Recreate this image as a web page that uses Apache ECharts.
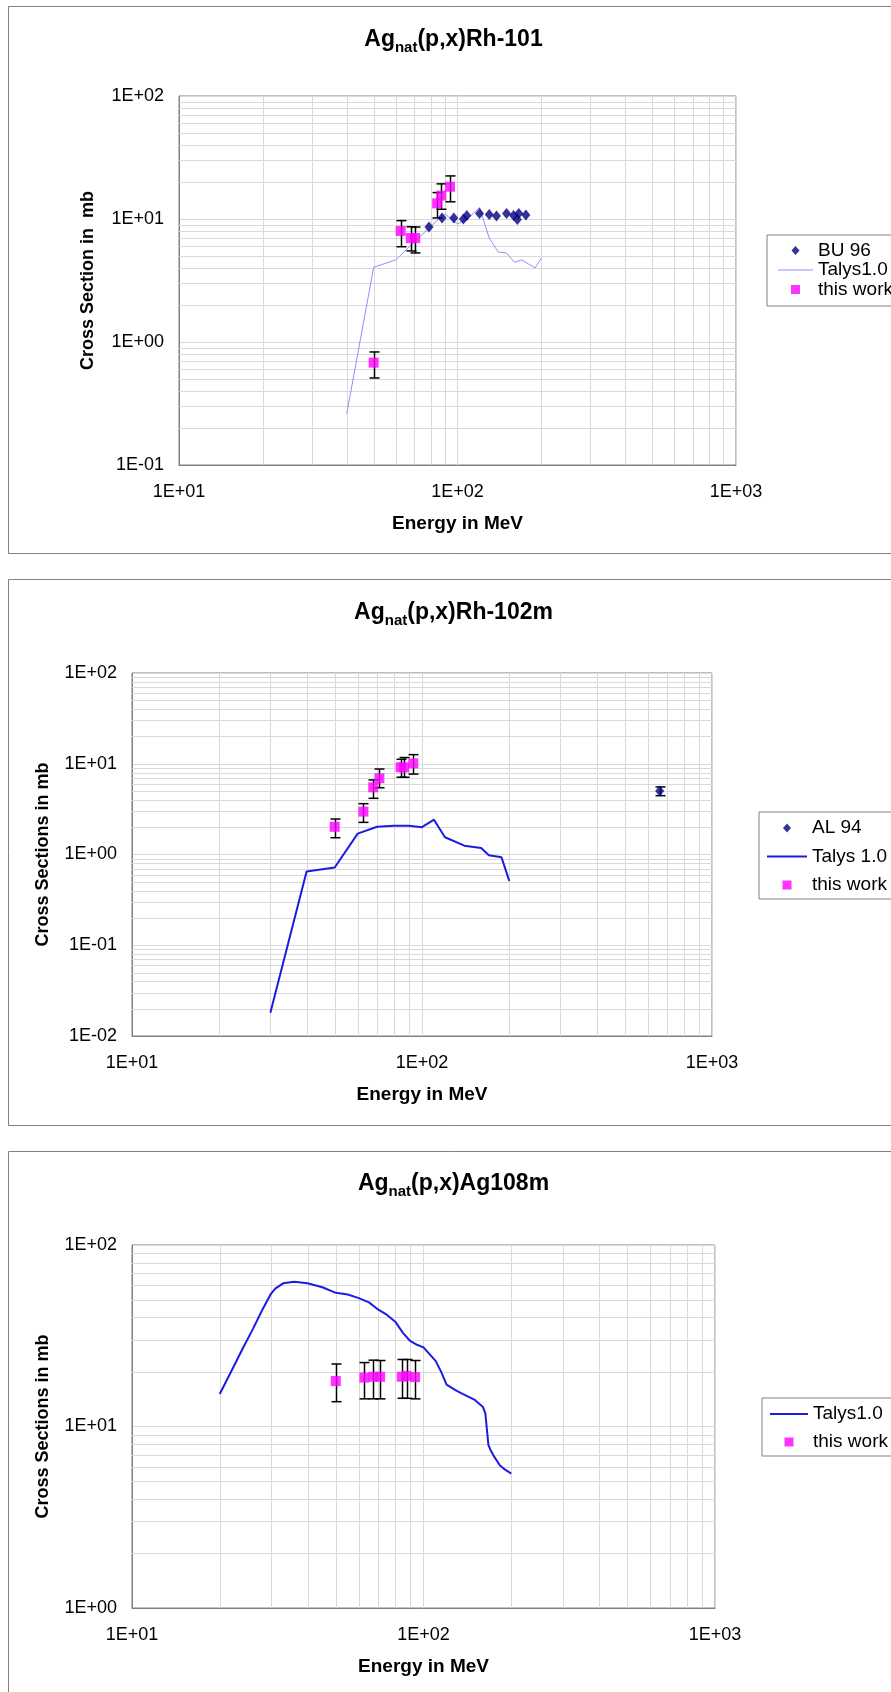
<!DOCTYPE html>
<html><head><meta charset="utf-8">
<script src="https://cdn.jsdelivr.net/npm/echarts@6/dist/echarts.min.js"></script>
<style>html,body{margin:0;padding:0;background:#fff}#c{width:891px;height:1692px}</style>
</head><body><div id="c"></div>
<script>
// ---------- Panel 1: Ag_nat(p,x)Rh-101 ----------
const p1TalysE  = [40, 50, 60, 70, 80, 90, 100, 110, 120, 130, 140, 150, 160, 170, 180, 190, 200];
const p1TalysXS = [0.26, 4.05, 4.65, 6.5, 8.7, 11.0, 9.1, 10.3, 12.4, 7.0, 5.4, 5.3, 4.45, 4.65, 4.3, 4.0, 4.8];
const p1BuE  = [79, 88, 97, 105, 108, 120, 130, 138, 150, 159, 164, 166, 176];
const p1BuXS = [8.6, 10.2, 10.2, 10.0, 10.7, 11.1, 10.9, 10.6, 11.1, 10.7, 9.9, 11.1, 10.8];
const p1WorkE  = [50, 62.5, 68, 70.5, 84.5, 87.5, 94];
const p1WorkXS = [0.68, 8.0, 7.0, 7.0, 13.4, 15.5, 18.3];
const p1WorkLo = [0.51, 5.95, 5.5, 5.3, 10.2, 12.0, 13.8];
const p1WorkHi = [0.83, 9.7, 8.65, 8.6, 16.4, 19.3, 22.4];

// ---------- Panel 2: Ag_nat(p,x)Rh-102m ----------
const p2TalysE  = [30, 40, 50, 60, 70, 80, 90, 100, 110, 120, 140, 160, 170, 188, 200];
const p2TalysXS = [0.018, 0.65, 0.72, 1.7, 2.02, 2.07, 2.07, 2.0, 2.42, 1.55, 1.25, 1.18, 0.98, 0.93, 0.51];
const p2AlE  = [660];
const p2AlXS = [5.0];
const p2AlLo = [4.45];
const p2AlHi = [5.55];
const p2WorkE  = [50, 62.8, 67.9, 71.3, 84.4, 86.7, 93.3];
const p2WorkXS = [2.02, 2.97, 5.5, 6.92, 9.14, 9.14, 10.1];
const p2WorkLo = [1.53, 2.26, 4.16, 5.44, 7.1, 7.1, 7.7];
const p2WorkHi = [2.46, 3.63, 6.63, 8.75, 11.2, 11.7, 12.6];

// ---------- Panel 3: Ag_nat(p,x)Ag108m ----------
const p3TalysE  = [20, 22, 24, 26, 28, 30, 31, 33, 36, 40, 45, 50, 55, 60, 65, 70, 75, 80, 85, 90, 95, 100, 110, 115, 120, 130, 140, 150, 160, 163, 167, 170, 175, 183, 190, 200];
const p3TalysXS = [15.1, 20.4, 27, 34.5, 44, 54, 57.5, 61.5, 62.7, 61.5, 58.5, 54.5, 53.4, 51, 48.3, 44, 41.2, 37.8, 32.8, 29.6, 28.2, 27.3, 23.0, 20.0, 17.0, 15.7, 14.8, 14.0, 12.8, 11.8, 7.9, 7.4, 6.8, 6.1, 5.8, 5.5];
const p3WorkE  = [50, 62.7, 67.3, 71, 84.2, 87.5, 93.6];
const p3WorkXS = [17.8, 18.6, 18.8, 18.8, 18.8, 19.0, 18.7];
const p3WorkLo = [13.7, 14.2, 14.2, 14.2, 14.3, 14.3, 14.2];
const p3WorkHi = [22.1, 22.5, 23.2, 23.1, 23.4, 23.4, 23.1];

// ---------- Tick values and labels ----------
const xTicks = [10, 100, 1000];
const xTickLabels = ['1E+01', '1E+02', '1E+03'];
const y1Ticks = [0.1, 1, 10, 100];
const y1TickLabels = ['1E-01', '1E+00', '1E+01', '1E+02'];
const y2Ticks = [0.01, 0.1, 1, 10, 100];
const y2TickLabels = ['1E-02', '1E-01', '1E+00', '1E+01', '1E+02'];
const y3Ticks = [1, 10, 100];
const y3TickLabels = ['1E+00', '1E+01', '1E+02'];

const FONT = "'Liberation Sans', Arial, sans-serif";
const GRID_C = '#d9d9d9';
const AXIS_C = '#808080';

function labelFmt(ticks, labels) {
  return function (v) {
    const i = ticks.findIndex(t => Math.abs(Math.log10(t) - Math.log10(v)) < 1e-6);
    return i >= 0 ? labels[i] : '';
  };
}
function minors(ticks) {
  const out = [];
  for (let i = 0; i < ticks.length - 1; i++) for (let m = 2; m <= 9; m++) out.push(+(m * ticks[i]).toPrecision(6));
  return out;
}
const strip = n => n.split('#')[0];

function xAxisCfg(idx) {
  return {
    gridIndex: idx, type: 'log', logBase: 10, min: xTicks[0], max: xTicks[xTicks.length - 1],
    axisLine: { show: true, onZero: false, lineStyle: { color: AXIS_C, width: 1 } },
    axisTick: { show: false },
    splitLine: { show: true, lineStyle: { color: GRID_C, width: 1 } },
    axisLabel: { formatter: labelFmt(xTicks, xTickLabels), color: '#000', fontSize: 18, fontFamily: FONT, margin: 18 },
    name: 'Energy in MeV', nameLocation: 'middle', nameGap: 49,
    nameTextStyle: { fontWeight: 'bold', fontSize: 19, color: '#000', fontFamily: FONT }
  };
}
function yAxisCfg(idx, ticks, labels, name, gap) {
  return {
    gridIndex: idx, type: 'log', logBase: 10, min: ticks[0], max: ticks[ticks.length - 1],
    axisLine: { show: true, onZero: false, lineStyle: { color: AXIS_C, width: 1 } },
    axisTick: { show: false },
    splitLine: { show: true, lineStyle: { color: GRID_C, width: 1 } },
    axisLabel: { formatter: labelFmt(ticks, labels), color: '#000', fontSize: 18, fontFamily: FONT, margin: 15 },
    name: name, nameLocation: 'middle', nameGap: gap,
    nameTextStyle: { fontWeight: 'bold', fontSize: 18, color: '#000', fontFamily: FONT }
  };
}
function gridLines(idx, yTicks) {
  const data = [];
  minors(xTicks).forEach(v => data.push([v, yTicks[0], 0]));
  minors(yTicks).forEach(v => data.push([xTicks[0], v, 1]));
  return {
    type: 'custom', xAxisIndex: idx, yAxisIndex: idx, silent: true, z: 1, data: data,
    encode: { x: 0, y: 1 },
    renderItem: function (params, api) {
      const cs = params.coordSys;
      const p = api.coord([api.value(0), api.value(1)]);
      const shape = api.value(2) === 1
        ? { x1: cs.x, y1: Math.round(p[1]) + 0.5, x2: cs.x + cs.width, y2: Math.round(p[1]) + 0.5 }
        : { x1: Math.round(p[0]) + 0.5, y1: cs.y, x2: Math.round(p[0]) + 0.5, y2: cs.y + cs.height };
      return { type: 'line', shape: shape, style: { stroke: GRID_C, lineWidth: 1 } };
    }
  };
}
function errBars(idx, E, lo, hi) {
  return {
    type: 'custom', xAxisIndex: idx, yAxisIndex: idx, silent: true, z: 3,
    data: E.map((e, i) => [e, lo[i], hi[i]]), encode: { x: 0, y: [1, 2] },
    renderItem: function (params, api) {
      const t = api.coord([api.value(0), api.value(2)]);
      const b = api.coord([api.value(0), api.value(1)]);
      const x = Math.round(t[0]) + 0.5, h = 5;
      const st = { stroke: '#000', lineWidth: 1.5 };
      return { type: 'group', children: [
        { type: 'line', shape: { x1: x, y1: t[1], x2: x, y2: b[1] }, style: st },
        { type: 'line', shape: { x1: x - h, y1: t[1], x2: x + h, y2: t[1] }, style: st },
        { type: 'line', shape: { x1: x - h, y1: b[1], x2: x + h, y2: b[1] }, style: st }
      ] };
    }
  };
}
const pts = (E, V) => E.map((e, i) => [e, V[i]]);
function workSeries(idx, name, E, V) {
  return { type: 'scatter', name: name, xAxisIndex: idx, yAxisIndex: idx, z: 4,
    symbol: 'rect', symbolSize: 10, itemStyle: { color: '#ff00ff' }, data: pts(E, V) };
}
function diaSeries(idx, name, E, V) {
  return { type: 'scatter', name: name, xAxisIndex: idx, yAxisIndex: idx, z: 4,
    symbol: 'diamond', symbolSize: [9, 11], itemStyle: { color: '#000080' }, data: pts(E, V) };
}
function talys(idx, name, E, V, color, width) {
  return { type: 'line', name: name, xAxisIndex: idx, yAxisIndex: idx, z: 2,
    symbol: 'none', showSymbol: false, lineStyle: { color: color, width: width },
    itemStyle: { color: color }, data: pts(E, V) };
}
function titleCfg(main, tail, y) {
  return {
    text: '{a|' + main + '}{s|nat}{a|' + tail + '}', left: 453.5, top: y, textAlign: 'center',
    textVerticalAlign: 'middle', padding: 0,
    textStyle: { fontFamily: FONT, fontWeight: 'bold', color: '#000',
      rich: {
        a: { fontSize: 23, fontWeight: 'bold', fontFamily: FONT, color: '#000', lineHeight: 30, verticalAlign: 'middle' },
        s: { fontSize: 15, fontWeight: 'bold', fontFamily: FONT, color: '#000', lineHeight: 15, verticalAlign: 'bottom' }
      } }
  };
}
// legend icons: bounding corners (tiny specks) keep the icon box fixed at W x 10
function boxed(W, body) {
  return 'path://M0,0L0.01,0L0,0.01Z M' + W + ',10L' + (W - 0.01) + ',10L' + W + ',9.99Z ' + body;
}
function iconDiamond(W) { const c = W / 2; return boxed(W, 'M' + c + ',0.5L' + (c + 4) + ',5L' + c + ',9.5L' + (c - 4) + ',5Z'); }
function iconSquare(W) { const c = W / 2; return boxed(W, 'M' + (c - 4.5) + ',0.5L' + (c + 4.5) + ',0.5L' + (c + 4.5) + ',9.5L' + (c - 4.5) + ',9.5Z'); }
function iconLine(W, lw) { const a = 5 - lw / 2, b = 5 + lw / 2; return boxed(W, 'M0,' + a + 'L' + W + ',' + a + 'L' + W + ',' + b + 'L0,' + b + 'Z'); }

function legendCfg(items, left, top, itemW, lineH, gap, pad) {
  return {
    data: items.map(it => ({ name: it[0], icon: it[1] })),
    orient: 'vertical', left: left, top: top, itemWidth: itemW, itemHeight: 10, itemGap: gap,
    padding: pad, borderColor: AXIS_C, borderWidth: 1, backgroundColor: '#fff',
    itemStyle: { borderWidth: 0 },
    formatter: strip, selectedMode: false,
    textStyle: { fontSize: 19, lineHeight: lineH, color: '#000', fontFamily: FONT }
  };
}

const chart = echarts.init(document.getElementById('c'), null, { renderer: 'canvas' });
chart.setOption({
  backgroundColor: '#fff',
  animation: false,
  title: [
    titleCfg('Ag', '(p,x)Rh-101', 40),
    titleCfg('Ag', '(p,x)Rh-102m', 613),
    titleCfg('Ag', '(p,x)Ag108m', 1184)
  ],
  graphic: [
    { type: 'rect', silent: true, z: -10, shape: { x: 8.5, y: 6.5, width: 950, height: 547 }, style: { fill: 'none', stroke: AXIS_C, lineWidth: 1 } },
    { type: 'rect', silent: true, z: -10, shape: { x: 8.5, y: 579.5, width: 950, height: 546 }, style: { fill: 'none', stroke: AXIS_C, lineWidth: 1 } },
    { type: 'rect', silent: true, z: -10, shape: { x: 8.5, y: 1151.5, width: 950, height: 547 }, style: { fill: 'none', stroke: AXIS_C, lineWidth: 1 } }
  ],
  grid: [
    { left: 179, top: 96, width: 557, height: 369, show: true, borderColor: AXIS_C, borderWidth: 1, backgroundColor: '#fff', outerBoundsMode: 'none', containLabel: false },
    { left: 132, top: 673, width: 580, height: 363, show: true, borderColor: AXIS_C, borderWidth: 1, backgroundColor: '#fff', outerBoundsMode: 'none', containLabel: false },
    { left: 132, top: 1245, width: 583, height: 363, show: true, borderColor: AXIS_C, borderWidth: 1, backgroundColor: '#fff', outerBoundsMode: 'none', containLabel: false }
  ],
  xAxis: [xAxisCfg(0), xAxisCfg(1), xAxisCfg(2)],
  yAxis: [
    yAxisCfg(0, y1Ticks, y1TickLabels, 'Cross Section in  mb', 82),
    yAxisCfg(1, y2Ticks, y2TickLabels, 'Cross Sections in mb', 80),
    yAxisCfg(2, y3Ticks, y3TickLabels, 'Cross Sections in mb', 80)
  ],
  legend: [
    legendCfg([['BU 96#1', iconDiamond(35)], ['Talys1.0#1', iconLine(35, 1)], ['this work#1', iconSquare(35)]],
      767, 235, 35, 15.5, 0.5, [6, 40, 7, 11]),
    legendCfg([['AL 94#2', iconDiamond(40)], ['Talys 1.0#2', iconLine(40, 2)], ['this work#2', iconSquare(40)]],
      759, 812, 40, 20, 8.5, [6, 40, 4, 8]),
    legendCfg([['Talys1.0#3', iconLine(38, 2)], ['this work#3', iconSquare(38)]],
      762, 1398, 38, 20, 8, [6, 40, 4, 8])
  ],
  series: [
    gridLines(0, y1Ticks),
    talys(0, 'Talys1.0#1', p1TalysE, p1TalysXS, '#8f8fff', 1),
    errBars(0, p1WorkE, p1WorkLo, p1WorkHi),
    workSeries(0, 'this work#1', p1WorkE, p1WorkXS),
    diaSeries(0, 'BU 96#1', p1BuE, p1BuXS),

    gridLines(1, y2Ticks),
    talys(1, 'Talys 1.0#2', p2TalysE, p2TalysXS, '#1c1ce0', 2),
    errBars(1, p2WorkE, p2WorkLo, p2WorkHi),
    errBars(1, p2AlE, p2AlLo, p2AlHi),
    workSeries(1, 'this work#2', p2WorkE, p2WorkXS),
    diaSeries(1, 'AL 94#2', p2AlE, p2AlXS),

    gridLines(2, y3Ticks),
    talys(2, 'Talys1.0#3', p3TalysE, p3TalysXS, '#1c1ce0', 2),
    errBars(2, p3WorkE, p3WorkLo, p3WorkHi),
    workSeries(2, 'this work#3', p3WorkE, p3WorkXS)
  ]
});
</script>
</body></html>
